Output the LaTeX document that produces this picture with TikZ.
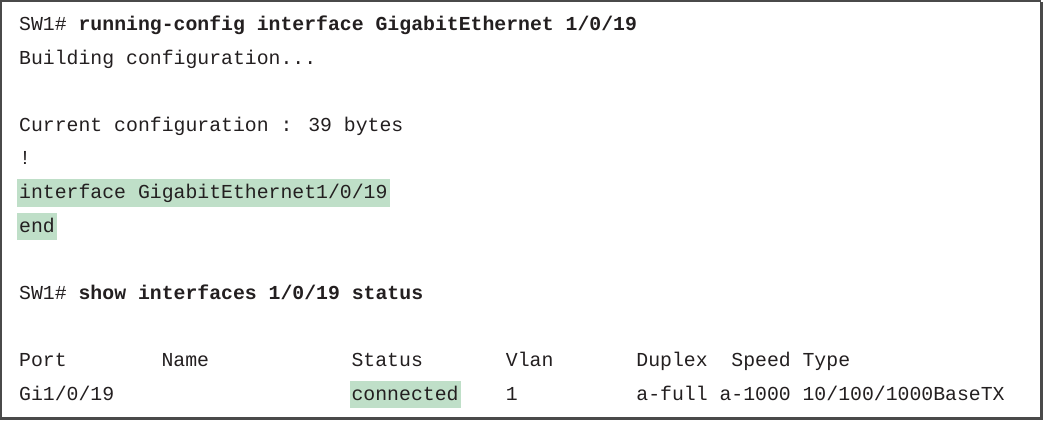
\documentclass[tikz,border=0pt]{standalone}
\usepackage{fontspec}
\newfontfamily\cmono{Liberation Mono}
\definecolor{txt}{HTML}{231F20}
\definecolor{hl}{HTML}{BFDFC8}
\definecolor{frame}{HTML}{4A4A4A}
\begin{document}
\begin{tikzpicture}[x=1pt,y=-1pt,
  every node/.style={font=\cmono\fontsize{19.8}{24}\selectfont, text=txt, anchor=base west, inner sep=0pt},
  hilite/.style={fill=hl, inner xsep=2pt, inner ysep=0pt, text height=19.2pt, text depth=8.2pt}]
\useasboundingbox (0,0) rectangle (1043,420);
\fill[white] (0,0) rectangle (1043,420);
% frame
\draw[frame, line width=1.4pt] (1,1) rectangle (1040.5,417.5);
\draw[frame, line width=2.2pt] (1041.9,2) -- (1041.9,418.9) -- (0,418.9);
% lines
\node (l0) at (19,30.5) {SW1\# \textbf{running-config interface GigabitEthernet 1/0/19}};
\node (l1) at (19,64.1) {Building configuration...};
\node (l3) at (19,131.3) {Current configuration : 39 bytes};
\node (l4) at (19,164.9) {!};
\node[hilite] (l5) at (17,198.5) {interface GigabitEthernet1/0/19};
\node[hilite] (l6) at (17,232.1) {end};
\node (l8) at (19,299.3) {SW1\# \textbf{show interfaces 1/0/19 status}};
% table header
\node (hport) at (19,366.5) {Port};
\node (hname) at (161.4,366.5) {Name};
\node (hstat) at (351.4,366.5) {Status};
\node (hvlan) at (505.7,366.5) {Vlan};
\node (hdup) at (636.2,366.5) {Duplex};
\node (hspd) at (731.2,366.5) {Speed};
\node (htype) at (802.4,366.5) {Type};
% table row
\node (rport) at (19,400.1) {Gi1/0/19};
\node[hilite] (rstat) at (349.4,400.1) {connected};
\node (rvlan) at (505.7,400.1) {1};
\node (rdup) at (636.2,400.1) {a-full};
\node (rspd) at (719.3,400.1) {a-1000};
\node (rtype) at (802.4,400.1) {10/100/1000BaseTX};
\end{tikzpicture}
\end{document}
